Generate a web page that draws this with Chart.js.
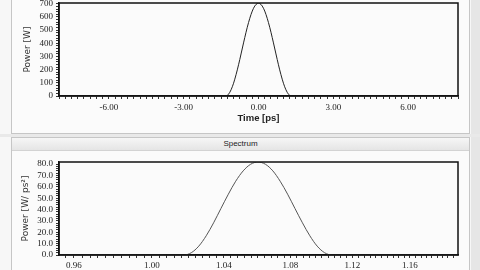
<!DOCTYPE html>
<html><head><meta charset="utf-8">
<script src="https://cdn.jsdelivr.net/npm/chart.js@4"></script>
<style>
html,body{margin:0;padding:0;width:480px;height:270px;overflow:hidden;background:#f7f7f7;}
#wrap{position:relative;width:480px;height:270px;overflow:hidden;}
.panel{position:absolute;left:11px;width:457px;background:#fbfbfb;border:1px solid #c6c6c6;}
#p1{top:-2px;height:134px;}
#p2{top:137px;height:140px;}
#gap{position:absolute;left:0;top:134px;width:480px;height:3px;background:#e9e9e9;}
#bar{position:absolute;left:0;top:0;right:0;height:12px;background:linear-gradient(#f6f6f6,#e5e5e5);border-bottom:1px solid #d3d3d3;font:8px "Liberation Sans";color:#222;text-align:center;line-height:12px;}
#rstrip{position:absolute;left:471px;top:0;width:9px;height:270px;background:#e6e6e6;}
canvas{position:absolute;left:0;}
#c1{top:-10px;}
#c2{top:140px;}
</style></head>
<body><div id="wrap">
<div id="rstrip"></div>
<div id="gap"></div>
<div class="panel" id="p1"></div>
<div class="panel" id="p2"><div id="bar">Spectrum</div></div>
<canvas id="c1" width="480" height="143"></canvas>
<canvas id="c2" width="480" height="130"></canvas>
</div>
<script>
// ---- data ----
const timePs      = [-8, -1.4, -1.3, -1.2, -1.1, -1.0, -0.9, -0.8, -0.7, -0.6, -0.5, -0.4, -0.3, -0.2, -0.1, 0,
                     0.1, 0.2, 0.3, 0.4, 0.5, 0.6, 0.7, 0.8, 0.9, 1.0, 1.1, 1.2, 1.3, 1.4, 8];
const pulsePowerW = [0, 0, 0, 14, 47, 97, 162, 237, 319, 403, 484, 557, 619, 666, 695, 705,
                     695, 666, 619, 557, 484, 403, 319, 237, 162, 97, 47, 14, 0, 0, 0];

const wavelengthUm  = [0.953, 1.0174, 1.0215, 1.0257, 1.0299, 1.0341, 1.0383, 1.0426, 1.0469, 1.0513, 1.0557, 1.0601,
                       1.0646, 1.0691, 1.0736, 1.0782, 1.0828, 1.0875, 1.0922, 1.0969, 1.1017, 1.1065, 1.195];
const spectrumPower = [0, 0, 2.0, 7.8, 16.9, 28.3, 40.9, 53.5, 64.9, 74.0, 79.8, 81.8,
                       79.8, 74.0, 64.9, 53.5, 40.9, 28.3, 16.9, 7.8, 2.0, 0, 0];

const timeMajorTicks       = [-6, -3, 0, 3, 6];
const powerMajorTicks      = [0, 100, 200, 300, 400, 500, 600, 700];
const wavelengthMajorTicks = [0.96, 1.00, 1.04, 1.08, 1.12, 1.16];
const spectrumMajorTicks   = [0, 10, 20, 30, 40, 50, 60, 70, 80];

// ---- reciprocal (frequency-linear) wavelength scale ----
class ReciprocalScale extends Chart.LinearScale {
  getPixelForValue(value) {
    const a = 1 / this.min, b = 1 / this.max;
    return this.getPixelForDecimal((a - 1 / value) / (a - b));
  }
  getValueForPixel(pixel) {
    const a = 1 / this.min, b = 1 / this.max;
    const d = this.getDecimalForPixel(pixel);
    return 1 / (a - d * (a - b));
  }
}
ReciprocalScale.id = 'reciprocal';
ReciprocalScale.defaults = Chart.LinearScale.defaults;
Chart.register(ReciprocalScale);

const frame = {
  id: 'frame',
  afterDatasetsDraw(chart) {
    const {ctx, chartArea: a} = chart;
    ctx.save();
    ctx.strokeStyle = '#111';
    ctx.lineWidth = 1.5;
    ctx.strokeRect(a.left, a.top, a.right - a.left, a.bottom - a.top);
    ctx.restore();
  }
};

const tickFont = {family: 'Liberation Serif', size: 9};
const tickColor = '#222';
function isMajor(v, majors) { return majors.some(m => Math.abs(m - v) < 1e-6); }
function fixFit(w, h) {
  return function (s) {
    if (w !== null) s.width = w;
    if (h !== null) s.height = h;
    s.paddingLeft = s.paddingRight = s.paddingTop = s.paddingBottom = 0;
  };
}
function ticksEvery(from, to, step) {
  return function (s) {
    const out = [];
    for (let i = Math.round(from / step); i <= Math.round(to / step); i++) out.push({value: +(i * step).toFixed(6)});
    s.ticks = out;
  };
}
const gridOpts = {drawOnChartArea: false, drawTicks: true, tickLength: 3, tickColor: '#333', tickWidth: 1};
const borderOpts = {display: true, color: '#111', width: 1.5};

new Chart(document.getElementById('c1'), {
  type: 'line',
  data: {datasets: [{
    data: timePs.map((t, i) => ({x: t, y: pulsePowerW[i]})),
    borderColor: '#222', borderWidth: 1, pointRadius: 0, cubicInterpolationMode: 'monotone', fill: false
  }]},
  options: {
    responsive: false, animation: false, events: [],
    layout: {padding: {left: 0, right: 22, top: 13, bottom: 0}},
    plugins: {legend: {display: false}, tooltip: {enabled: false}},
    scales: {
      x: {
        type: 'linear', min: -8, max: 8, bounds: 'data',
        afterFit: fixFit(null, 37),
        afterBuildTicks: ticksEvery(-8, 8, 0.25),
        ticks: {autoSkip: false, maxRotation: 0, padding: 3, font: tickFont, color: tickColor,
          callback: v => isMajor(v, timeMajorTicks) ? (Math.abs(v) < 1e-9 ? 0 : v).toFixed(2) : ''},
        grid: gridOpts, border: borderOpts,
        title: {display: true, text: 'Time [ps]', color: '#222',
          font: {family: 'Liberation Sans', size: 9.5, weight: 'bold'}, padding: {top: 0, bottom: 9}}
      },
      y: {
        type: 'linear', min: 0, max: 706, bounds: 'data',
        afterFit: fixFit(59, null),
        afterBuildTicks: ticksEvery(0, 700, 20),
        ticks: {autoSkip: false, padding: 3, font: tickFont, color: tickColor,
          callback: v => isMajor(v, powerMajorTicks) ? String(Math.round(v)) : ''},
        grid: gridOpts, border: borderOpts,
        title: {display: true, text: 'Power [W]', color: '#333',
          font: {family: 'DejaVu Sans', size: 9}, padding: {top: 22, bottom: 0}}
      }
    }
  },
  plugins: [frame]
});

new Chart(document.getElementById('c2'), {
  type: 'line',
  data: {datasets: [{
    data: wavelengthUm.map((w, i) => ({x: w, y: spectrumPower[i]})),
    borderColor: '#555', borderWidth: 1, pointRadius: 0, cubicInterpolationMode: 'monotone', fill: false
  }]},
  options: {
    responsive: false, animation: false, events: [],
    layout: {padding: {left: 0, right: 22, top: 22, bottom: 0}},
    plugins: {legend: {display: false}, tooltip: {enabled: false}},
    scales: {
      x: {
        type: 'reciprocal', min: 0.9527, max: 1.1956, bounds: 'data',
        afterFit: fixFit(null, 15),
        afterBuildTicks: ticksEvery(0.956, 1.192, 0.004),
        ticks: {autoSkip: false, maxRotation: 0, padding: 2, font: tickFont, color: tickColor,
          callback: v => isMajor(v, wavelengthMajorTicks) ? v.toFixed(2) : ''},
        grid: gridOpts, border: borderOpts
      },
      y: {
        type: 'linear', min: 0, max: 81.8, bounds: 'data',
        afterFit: fixFit(59, null),
        afterBuildTicks: ticksEvery(0, 80, 2),
        ticks: {autoSkip: false, padding: 3, font: tickFont, color: tickColor,
          callback: v => isMajor(v, spectrumMajorTicks) ? v.toFixed(1) : ''},
        grid: gridOpts, border: borderOpts,
        title: {display: true, text: 'Power [W/ ps\u00B2]', color: '#333',
          font: {family: 'DejaVu Sans', size: 9}, padding: {top: 20.5, bottom: 0}}
      }
    }
  },
  plugins: [frame]
});
</script>
</body></html>
